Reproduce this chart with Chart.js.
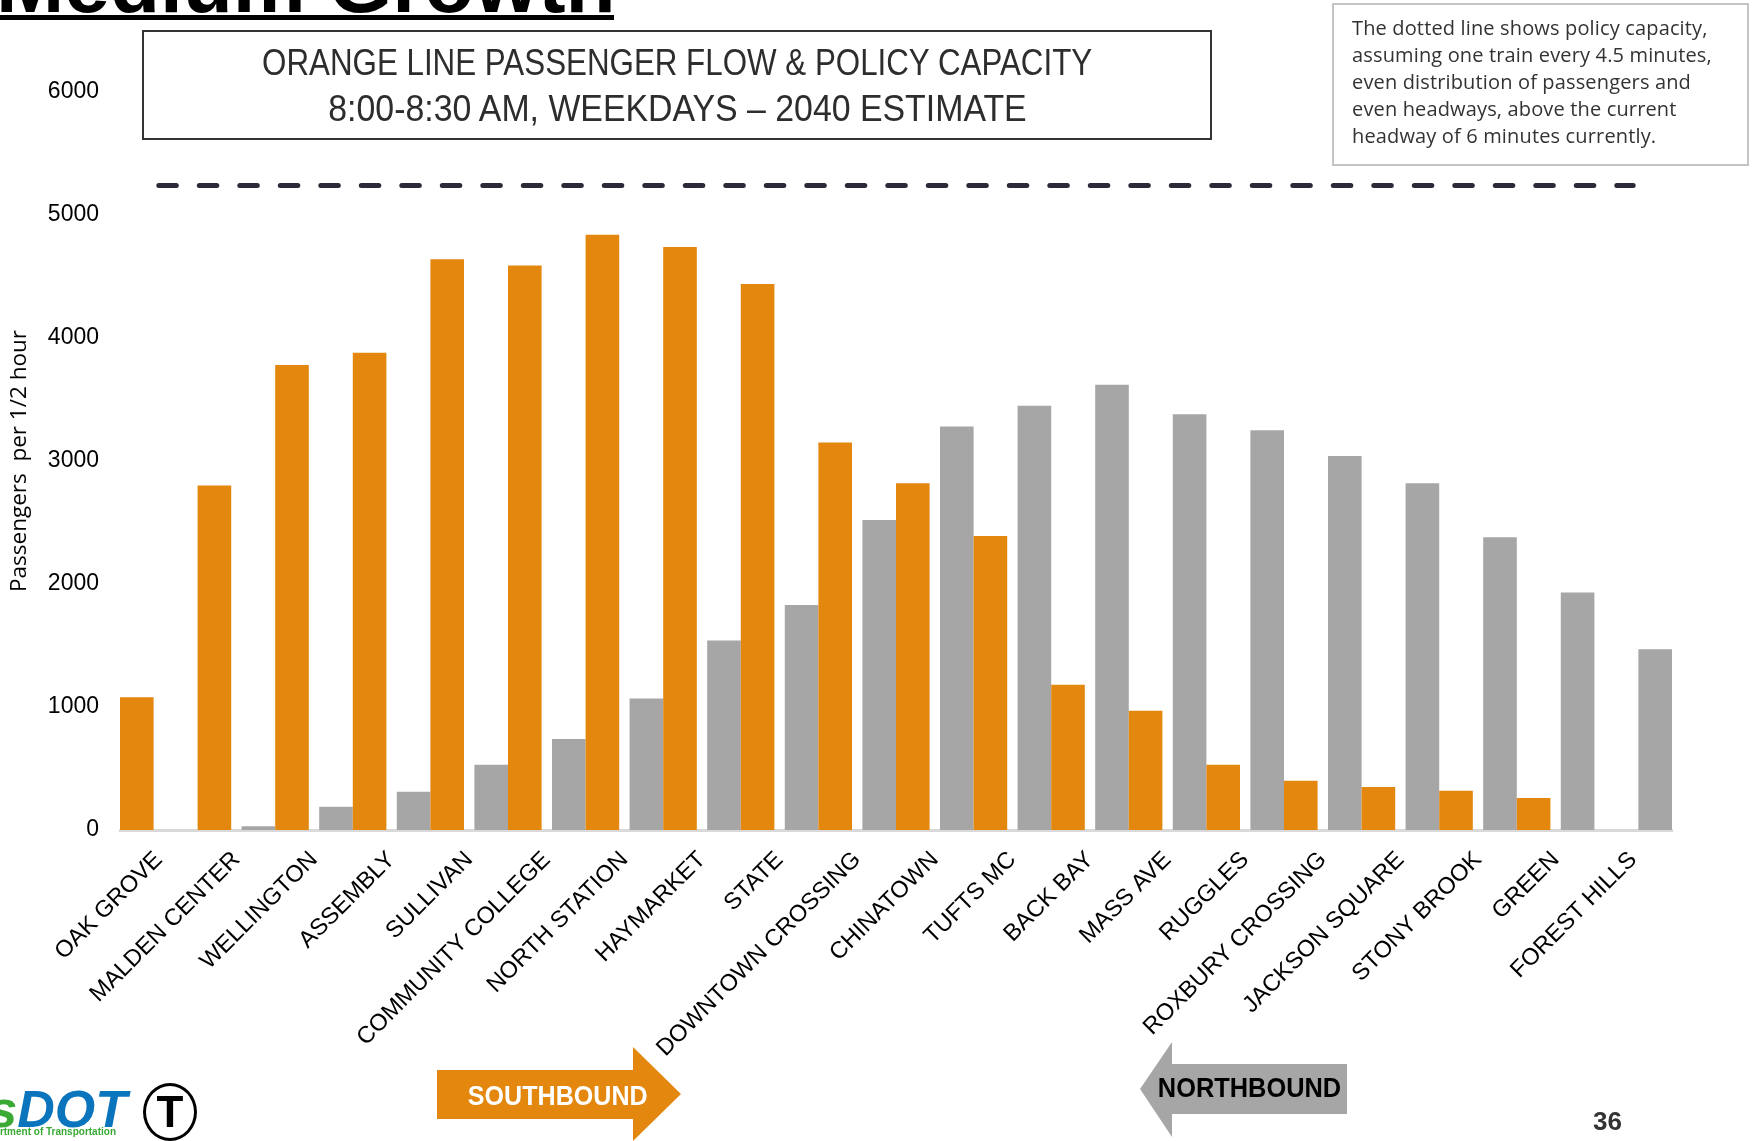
<!DOCTYPE html>
<html>
<head>
<meta charset="utf-8">
<title>Orange Line Passenger Flow & Policy Capacity</title>
<script src="https://cdn.jsdelivr.net/npm/chart.js@4.4.1/dist/chart.umd.min.js"></script>
<style>
  html, body { margin: 0; padding: 0; background: #fff; }
  #page { position: relative; width: 1756px; height: 1141px; overflow: hidden; font-family: "Liberation Sans", Arial, sans-serif; }
  #myChart { position: absolute; left: 0; top: 0; }
  .heading { position: absolute; left: -4px; top: -57px; font-size: 82px; line-height: 82px; font-weight: bold; color: #000; white-space: nowrap; }
  .headingRule { position: absolute; left: 0; top: 15px; width: 614px; height: 5px; background: #000; }
  .titleBox { position: absolute; left: 142px; top: 30px; width: 1070px; height: 110px; box-sizing: border-box; border: 2px solid #333; padding-top: 8px; text-align: center; color: #2d2d2d; font-size: 36px; line-height: 46px; }
  .titleBox span { display: inline-block; white-space: nowrap; }
  .note { position: absolute; left: 1332px; top: 3px; width: 417px; height: 163px; box-sizing: border-box; border: 2px solid #c4c4c4; padding: 9px 0 0 18px; font-family: "Open Sans", sans-serif; font-size: 20px; line-height: 27px; letter-spacing: 0.15px; color: #333; white-space: nowrap; }
  .arrow { position: absolute; }
  .south { left: 437px; top: 1047px; width: 244px; height: 94px; background: #e3870f; clip-path: polygon(0 23px, 196px 23px, 196px 0, 244px 47px, 196px 94px, 196px 72px, 0 72px); }
  .north { left: 1140px; top: 1042px; width: 207px; height: 95px; background: #a6a6a6; clip-path: polygon(0 47px, 32px 0, 32px 22px, 207px 22px, 207px 72px, 32px 72px, 32px 95px); }
  .arrowText { position: absolute; width: 240px; text-align: center; font-size: 27px; line-height: 30px; font-weight: bold; white-space: nowrap; }
  .arrowText span { display: inline-block; }
  .pageNo { position: absolute; left: 1593px; top: 1106px; font-size: 26px; line-height: 30px; font-weight: bold; color: #333; }
  .dot { position: absolute; left: -200px; top: 1083px; width: 327px; text-align: right; font-size: 52px; line-height: 52px; font-weight: bold; font-style: italic; white-space: nowrap; }
  .dotSub { position: absolute; left: -200px; top: 1126px; width: 316px; text-align: right; font-size: 10px; line-height: 11px; font-weight: bold; color: #3aaa35; white-space: nowrap; }
  .tLogo { position: absolute; left: 143px; top: 1083px; width: 54px; height: 58px; box-sizing: border-box; border: 3px solid #000; border-radius: 50%; text-align: center; font-size: 44px; line-height: 52px; font-weight: bold; color: #000; }
</style>
</head>
<body>
<div id="page">
  <canvas id="myChart" width="1756" height="1141"></canvas>

  <div class="heading">Medium Growth</div>
  <div class="headingRule"></div>

  <div class="titleBox">
    <div><span style="transform: scaleX(0.87)">ORANGE LINE PASSENGER FLOW &amp; POLICY CAPACITY</span></div>
    <div><span style="transform: scaleX(0.94)">8:00-8:30 AM, WEEKDAYS – 2040 ESTIMATE</span></div>
  </div>

  <div class="note">The dotted line shows policy capacity,<br>assuming one train every 4.5 minutes,<br>even distribution of passengers and<br>even headways, above the current<br>headway of 6 minutes currently.</div>

  <div class="arrow south"></div>
  <div class="arrowText" style="left: 438px; top: 1081px; color: #fff;"><span style="transform: scaleX(0.93)">SOUTHBOUND</span></div>
  <div class="arrow north"></div>
  <div class="arrowText" style="left: 1129px; top: 1073px; color: #000;"><span style="transform: scaleX(0.94)">NORTHBOUND</span></div>

  <div class="pageNo">36</div>

  <div class="dot"><span style="color: #3aaa35">Mass</span><span style="color: #0a74bd">DOT</span></div>
  <div class="dotSub">Massachusetts Department of Transportation</div>
  <div class="tLogo">T</div>
</div>

<script>
const stations = ["OAK GROVE", "MALDEN CENTER", "WELLINGTON", "ASSEMBLY", "SULLIVAN",
    "COMMUNITY COLLEGE", "NORTH STATION", "HAYMARKET", "STATE", "DOWNTOWN CROSSING",
    "CHINATOWN", "TUFTS MC", "BACK BAY", "MASS AVE", "RUGGLES",
    "ROXBURY CROSSING", "JACKSON SQUARE", "STONY BROOK", "GREEN", "FOREST HILLS"];
const southbound = [1080, 2800, 3780, 3880, 4640, 4590, 4840, 4740, 4440, 3150,
    2820, 2390, 1180, 970, 530, 400, 350, 320, 260, 0];
const northbound = [0, 30, 190, 310, 530, 740, 1070, 1540, 1830, 2520,
    3280, 3450, 3620, 3380, 3250, 3040, 2820, 2380, 1930, 1470];
const policyCapacity = 5240;
const yTicks = [0, 1000, 2000, 3000, 4000, 5000, 6000];

const orange = "#e3870f";
const grey = "#a6a6a6";

new Chart("myChart", {
  data: {
    labels: stations,
    datasets: [
      {
        type: "bar",
        label: "Southbound",
        data: southbound,
        backgroundColor: orange,
        categoryPercentage: 1.134,
        barPercentage: 0.764
      },
      {
        type: "bar",
        label: "Northbound",
        data: northbound,
        backgroundColor: grey,
        categoryPercentage: 1.134,
        barPercentage: 0.764
      },
      {
        // policy capacity, same value at every station
        type: "line",
        label: "Policy capacity",
        data: stations.map(() => policyCapacity),
        borderColor: "#2a2a38",
        borderWidth: 5,
        borderDash: [17.5, 23],
        borderCapStyle: "round",
        pointRadius: 0,
        fill: false
      }
    ]
  },
  options: {
    responsive: false,
    animation: false,
    devicePixelRatio: 1,
    layout: { padding: { left: 3, right: 84, top: 92, bottom: 0 } },
    plugins: {
      legend: { display: false },
      tooltip: { enabled: false }
    },
    scales: {
      x: {
        grid: { display: false, drawTicks: false },
        border: { display: true, color: "#d9d9d9", width: 3 },
        ticks: {
          autoSkip: false,
          maxRotation: 45,
          minRotation: 45,
          padding: 16,
          color: "#000",
          font: { family: "Liberation Sans", size: 23.5 }
        },
        afterFit: (scale) => { scale.height = 311 }
      },
      y: {
        min: yTicks[0],
        max: yTicks[yTicks.length - 1],
        afterBuildTicks: (scale) => { scale.ticks = yTicks.map(v => ({ value: v })) },
        grid: { display: false, drawTicks: false },
        border: { display: false },
        ticks: {
          padding: 21,
          color: "#000",
          font: { family: "Liberation Sans", size: 23 },
          callback: (v) => String(v)
        },
        title: {
          display: true,
          text: "Passengers  per 1/2 hour",
          color: "#000",
          padding: { top: 3, bottom: 4 },
          font: { family: "Open Sans", size: 22.5 }
        },
        afterFit: (scale) => { scale.width = 117 }
      }
    }
  }
});
</script>
</body>
</html>
